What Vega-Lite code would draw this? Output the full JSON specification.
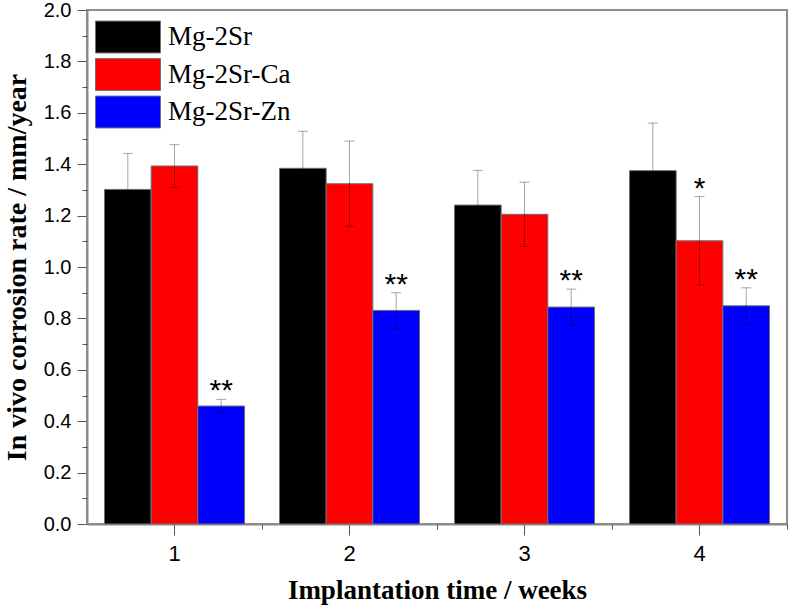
{
  "$schema": "https://vega.github.io/schema/vega-lite/v6.json",
  "width": 700,
  "height": 514,
  "autosize": {"type": "none"},
  "padding": {"left": 87, "top": 10, "right": 1, "bottom": 86},
  "background": "white",
  "config": {
    "view": {"stroke": "#8c8c8c", "strokeWidth": 2},
    "axis": {
      "grid": false,
      "domainColor": "#8c8c8c",
      "domainWidth": 2,
      "tickColor": "#555",
      "tickWidth": 1,
      "labelFont": "Liberation Sans",
      "labelColor": "#000",
      "titleFont": "Liberation Serif",
      "titleFontWeight": "bold",
      "titleColor": "#000"
    }
  },
  "datasets": {
    "rates": [
      {"week": "1", "series": "Mg-2Sr", "value": 1.302, "err": 0.140, "sig": ""},
      {"week": "1", "series": "Mg-2Sr-Ca", "value": 1.393, "err": 0.083, "sig": ""},
      {"week": "1", "series": "Mg-2Sr-Zn", "value": 0.459, "err": 0.026, "sig": "**"},
      {"week": "2", "series": "Mg-2Sr", "value": 1.384, "err": 0.144, "sig": ""},
      {"week": "2", "series": "Mg-2Sr-Ca", "value": 1.324, "err": 0.166, "sig": ""},
      {"week": "2", "series": "Mg-2Sr-Zn", "value": 0.831, "err": 0.069, "sig": "**"},
      {"week": "3", "series": "Mg-2Sr", "value": 1.241, "err": 0.135, "sig": ""},
      {"week": "3", "series": "Mg-2Sr-Ca", "value": 1.205, "err": 0.125, "sig": ""},
      {"week": "3", "series": "Mg-2Sr-Zn", "value": 0.844, "err": 0.070, "sig": "**"},
      {"week": "4", "series": "Mg-2Sr", "value": 1.375, "err": 0.185, "sig": ""},
      {"week": "4", "series": "Mg-2Sr-Ca", "value": 1.102, "err": 0.172, "sig": "*"},
      {"week": "4", "series": "Mg-2Sr-Zn", "value": 0.849, "err": 0.070, "sig": "**"}
    ]
  },
  "data": {"name": "rates"},
  "resolve": {"axis": {"x": "independent", "y": "independent"}},
  "layer": [
    {
      "mark": {"type": "bar", "stroke": "#707070", "strokeWidth": 1},
      "encoding": {
        "x": {
          "field": "week", "type": "nominal",
          "scale": {"paddingInner": 0.2, "paddingOuter": 0.1},
          "axis": {
            "orient": "bottom",
            "title": "Implantation time / weeks",
            "labelAngle": 0,
            "labelFontSize": 22,
            "labelPadding": 8,
            "tickSize": 11,
            "titleFontSize": 27,
            "titlePadding": 13
          }
        },
        "xOffset": {"field": "series", "type": "nominal", "scale": {"domain": ["Mg-2Sr", "Mg-2Sr-Ca", "Mg-2Sr-Zn"]}},
        "y": {
          "field": "value", "type": "quantitative",
          "scale": {"domain": [0, 2], "nice": false},
          "axis": {
            "orient": "left",
            "title": "In vivo corrosion rate / mm/year",
            "values": [0, 0.2, 0.4, 0.6, 0.8, 1.0, 1.2, 1.4, 1.6, 1.8, 2.0],
            "format": ".1f",
            "labelFontSize": 20,
            "labelPadding": 6,
            "tickSize": 10,
            "titleFontSize": 28,
            "titlePadding": 12
          }
        },
        "color": {
          "field": "series", "type": "nominal",
          "scale": {"domain": ["Mg-2Sr", "Mg-2Sr-Ca", "Mg-2Sr-Zn"], "range": ["#000000", "#ff0000", "#0000ff"]},
          "legend": {
            "orient": "none",
            "legendX": 24,
            "legendY": 10,
            "title": null,
            "padding": 0,
            "symbolType": "M-2,-0.98H2V0.98H-2Z",
            "symbolSize": 1056,
            "symbolStrokeColor": "#707070",
            "symbolStrokeWidth": 1,
            "symbolOpacity": 1,
            "labelFont": "Liberation Serif",
            "labelFontSize": 27,
            "labelColor": "#000",
            "labelOffset": 23,
            "rowPadding": 1.5
          }
        }
      }
    },
    {
      "mark": {
        "type": "errorbar",
        "ticks": {"size": 10, "color": "#000", "opacity": 0.35},
        "rule": {"color": "#000", "opacity": 0.35}
      },
      "encoding": {
        "x": {"field": "week", "type": "nominal", "axis": null},
        "xOffset": {"field": "series", "type": "nominal", "scale": {"domain": ["Mg-2Sr", "Mg-2Sr-Ca", "Mg-2Sr-Zn"]}},
        "y": {"field": "value", "type": "quantitative", "axis": null},
        "yError": {"field": "err"}
      }
    },
    {
      "transform": [
        {"filter": "datum.sig != ''"},
        {"fold": ["value", "err"], "as": ["part", "amount"]},
        {"aggregate": [{"op": "sum", "field": "amount", "as": "top"}], "groupby": ["week", "series", "sig"]}
      ],
      "mark": {"type": "text", "font": "Liberation Sans", "fontSize": 30, "baseline": "alphabetic", "dy": 1, "color": "#000"},
      "encoding": {
        "x": {
          "field": "week", "type": "nominal",
          "axis": {"orient": "bottom", "labels": false, "domain": false, "title": null, "tickSize": 5, "tickOffset": 87.5}
        },
        "xOffset": {"field": "series", "type": "nominal", "scale": {"domain": ["Mg-2Sr", "Mg-2Sr-Ca", "Mg-2Sr-Zn"]}},
        "y": {
          "field": "top", "type": "quantitative",
          "axis": {"orient": "left", "labels": false, "domain": false, "title": null, "tickSize": 5,
                   "values": [0.1, 0.3, 0.5, 0.7, 0.9, 1.1, 1.3, 1.5, 1.7, 1.9]}
        },
        "text": {"field": "sig"}
      }
    }
  ]
}
